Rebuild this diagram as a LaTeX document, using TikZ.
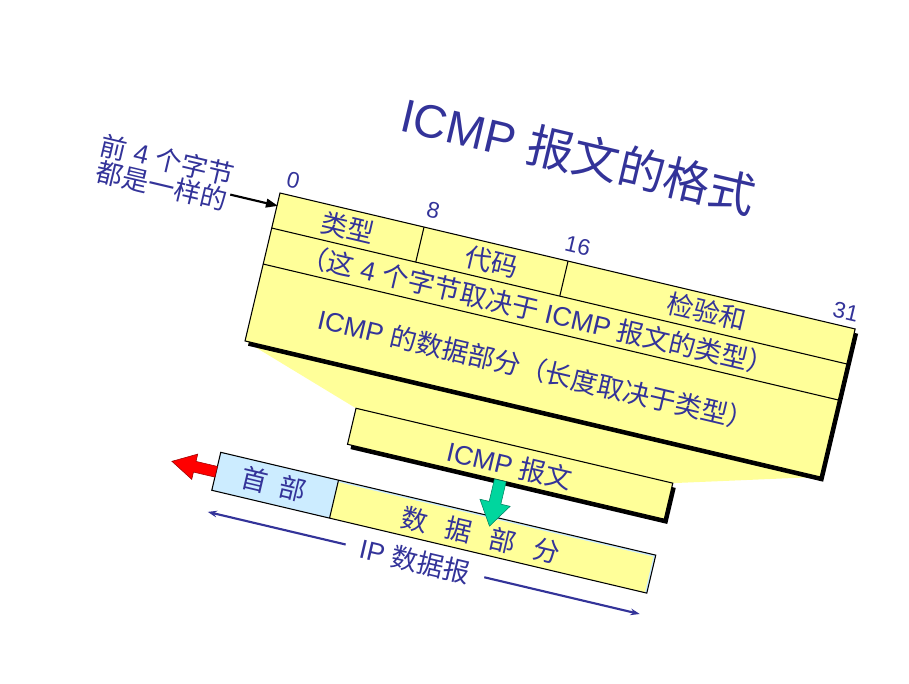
\documentclass[tikz,border=0pt]{standalone}
\usepackage{fontspec}
\setmainfont{Liberation Sans}
\newfontfamily\cjk{Noto Sans CJK SC}
\usetikzlibrary{arrows.meta}
\definecolor{txtblue}{RGB}{51,51,153}
\definecolor{fieldyellow}{RGB}{255,255,153}
\definecolor{hdrblue}{RGB}{204,236,255}
\definecolor{arrowgreen}{RGB}{0,214,158}
\newcommand{\zh}[1]{{\cjk #1}}
\tikzset{
  lbl/.style={text=txtblue, font=\fontsize{20}{22}\selectfont, inner sep=0pt},
  notelbl/.style={text=txtblue, font=\fontsize{20}{20}\selectfont, inner sep=0pt},
  bitno/.style={text=txtblue, font=\fontsize{17}{20}\selectfont, inner sep=0pt},
  titlelbl/.style={text=txtblue, font=\fontsize{35}{40}\selectfont, inner sep=0pt},
  boxline/.style={draw=black, line width=0.8pt},
  fieldbox/.style={boxline, fill=fieldyellow},
  dimline/.style={draw=txtblue, line width=1.6pt, -{Stealth[length=7pt,width=5pt]}},
  notearrow/.style={draw=black, line width=1.6pt, -{Triangle[length=9pt,width=6.5pt]}},
}
\begin{document}
\begin{tikzpicture}[x=0.75pt,y=-0.75pt]
  \useasboundingbox (0,0) rectangle (909,683);
  \begin{scope}[shift={(280,193)},rotate=-13.3,transform shape]
    \node[titlelbl] (title) at (282,-106) {ICMP \zh{报文的格式}};
    % funnel from the header to the ICMP message
    \fill[fieldyellow] (0,152) -- (591,152) -- (449,192) -- (123.5,192) -- cycle;
    % ICMP header
    \fill[black] (4,4) rectangle (595,156);
    \draw[fieldbox] (0,0) rectangle (591,152);
    \draw[boxline] (0,36) -- (591,36) (0,73) -- (591,73);
    \draw[boxline] (148,0) -- (148,36) (296,0) -- (296,36);
    \foreach \bit/\u/\v in {0/10/-15.7, 8/153/-18.7, 16/302/-17, 31/578/-14.4}{%
      \node[bitno] (bit\bit) at (\u,\v) {\bit};
    }
    \node[lbl] (type) at (74,18) {\zh{类型}};
    \node[lbl] (code) at (222,18) {\zh{代码}};
    \node[lbl] (checksum) at (443,17) {\zh{检验和}};
    \node[lbl] (rest) at (278,55) {\zh{（这} 4 \zh{个字节取决于} ICMP \zh{报文的类型）}};
    \node[lbl] (icmpdata) at (290,113) {ICMP \zh{的数据部分（长度取决于类型）}};
    % ICMP message
    \fill[black] (127.5,196) rectangle (453,233);
    \draw[fieldbox] (123.5,192) rectangle (449,229);
    \node[lbl] (icmpmsg) at (286,212) {ICMP \zh{报文}};
    % IP datagram
    \fill[hdrblue] (2,266) rectangle (449,305);
    \fill[fieldyellow] (123,268) rectangle (447,305);
    \draw[boxline] (2,266) rectangle (449,305) (123,266) -- (123,305);
    \node[lbl] (iphdr) at (61,285) {\zh{首\hspace{0.5em}部}};
    \node[lbl] (ipdata) at (274,287) {\zh{数\hspace{0.7em}据\hspace{0.7em}部\hspace{0.7em}分}};
    \draw[fill=red, draw=red!60!black, line width=0.4pt]
      (2,280.5) -- (-20,280.5) -- (-20,273) -- (-43.5,286) -- (-20,299) -- (-20,291.5) -- (2,291.5) -- cycle;
    \draw[fill=arrowgreen, draw=arrowgreen!60!black, line width=0.4pt]
      (274.5,229) -- (286.5,229) -- (286.5,252) -- (296,252) -- (280.5,276) -- (265,252) -- (274.5,252) -- cycle;
    \node[lbl, inner xsep=11pt] (iplen) at (216,327) {IP \zh{数据报}};
    \coordinate (ipleft) at (3,327);
    \coordinate (ipright) at (447,327);
    \draw[dimline] (iplen.west) -- (ipleft);
    \draw[dimline] (iplen.east) -- (ipright);
    % note on the first 4 bytes
    \node[notelbl] (note1) at (-117,-6.5) {\zh{前} 4 \zh{个字节}};
    \node[notelbl] (note2) at (-117,20) {\zh{都是一样的}};
    \coordinate (corner) at (1,13);
    \draw[notearrow] (note2.east) ++(2,-7) -- (corner);
  \end{scope}
\end{tikzpicture}
\end{document}
